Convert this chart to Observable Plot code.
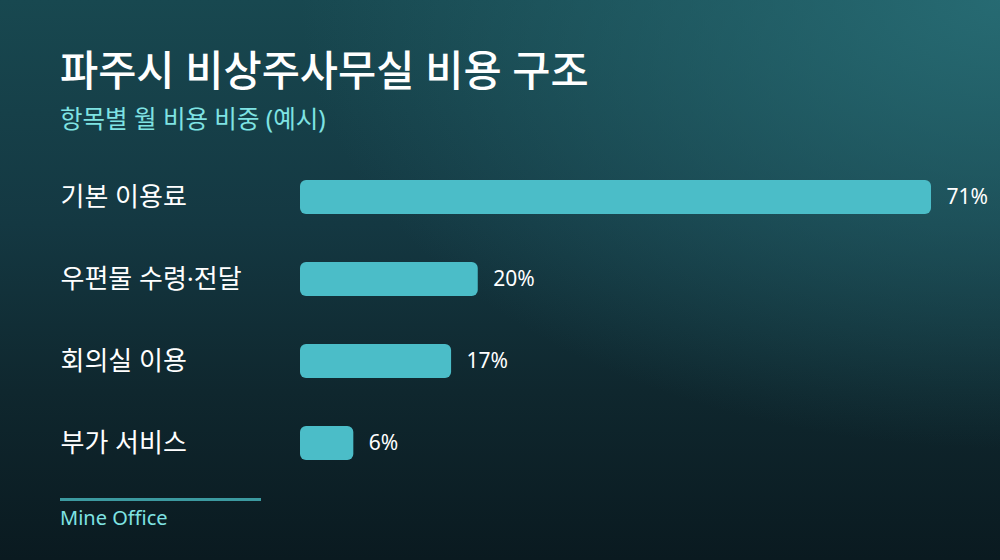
<!DOCTYPE html>
<html><head><meta charset="utf-8">
<script src="https://cdn.jsdelivr.net/npm/d3@7"></script>
<script src="https://cdn.jsdelivr.net/npm/@observablehq/plot@0.6"></script>
<style>
html,body{margin:0;padding:0;}
#wrap{position:relative;width:1000px;height:560px;overflow:hidden;font-family:"Noto Sans","Noto Sans CJK KR",sans-serif;
background:radial-gradient(ellipse 70% 80% at 100% 0%, rgba(40,110,118,0.9) 0%, rgba(40,110,118,0) 100%),
linear-gradient(180deg, #184850 0%, #143842 40%, #0f272e 70%, #0a1a20 100%);}
#title{position:absolute;left:60px;top:50px;margin:0;font-size:41.5px;font-weight:500;color:#ffffff;line-height:1;}
#subtitle{position:absolute;left:60px;top:107px;font-size:24.5px;color:#7fe3e3;line-height:1;}
#chart{position:absolute;left:0;top:164px;}
#rule{position:absolute;left:60px;top:498px;width:201px;height:3px;background:#3c9aa0;}
#caption{position:absolute;left:60px;top:508px;font-size:20px;color:#7fe3e3;line-height:1;}
</style></head>
<body><div id="wrap">
<div id="title">파주시 비상주사무실 비용 구조</div>
<div id="subtitle">항목별 월 비용 비중 (예시)</div>
<div id="chart"></div>
<div id="rule"></div>
<div id="caption">Mine Office</div>
</div>
<script>
const categories = ["기본 이용료", "우편물 수령·전달", "회의실 이용", "부가 서비스"];
const shares = [71, 20, 17, 6];
const valueLabels = ["71%", "20%", "17%", "6%"];
const data = categories.map((c, i) => ({category: c, share: shares[i], label: valueLabels[i]}));

const chart = Plot.plot({
  width: 1000,
  height: 313,
  marginLeft: 300,
  marginRight: 69,
  marginTop: 0,
  marginBottom: 0,
  style: {background: "transparent", fontFamily: "'Noto Sans','Noto Sans CJK KR',sans-serif", overflow: "visible"},
  x: {domain: [0, 71], axis: null},
  y: {domain: categories, axis: null, paddingInner: 0.585, paddingOuter: 0.2},
  marks: [
    Plot.barX(data, {x: "share", y: "category", fill: "#4bbdc8", rx: 6}),
    Plot.text(data, {x: "share", y: "category", text: "label", textAnchor: "start", dx: 15, fill: "#ffffff", fontSize: 21}),
    Plot.text(data, {x: 0, y: "category", text: "category", textAnchor: "start", dx: -240, fill: "#ffffff", fontSize: 26})
  ]
});
document.getElementById("chart").appendChild(chart);
</script>
</body></html>
